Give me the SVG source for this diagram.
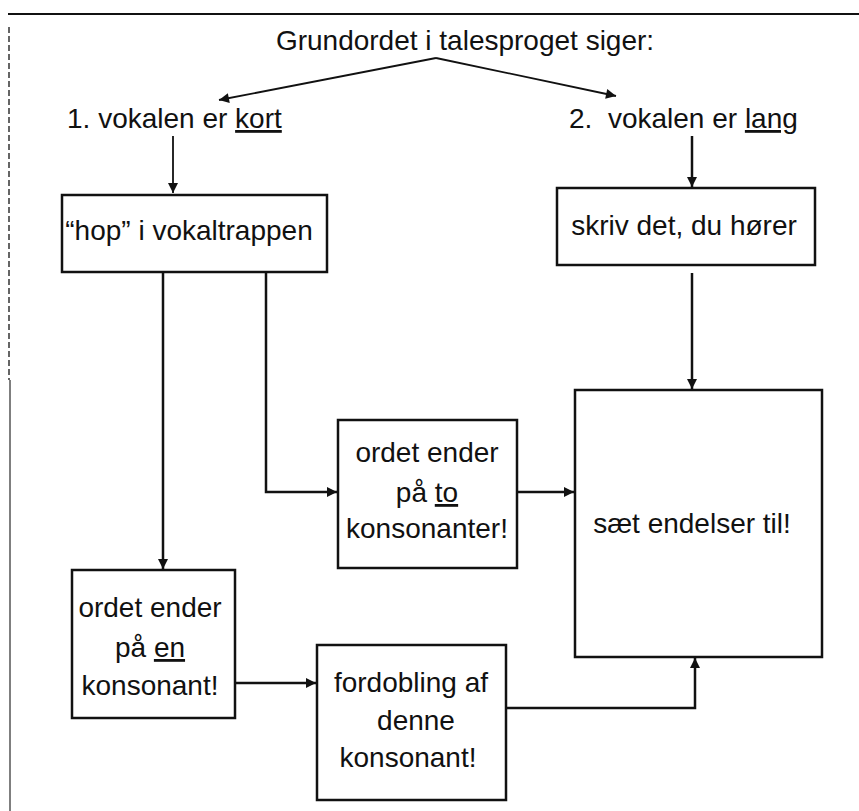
<svg xmlns="http://www.w3.org/2000/svg" width="859" height="811" viewBox="0 0 859 811">
<defs>
<style>
text{font-family:"Liberation Sans",Arial,Helvetica,sans-serif;font-size:28px;fill:#111}
.box{fill:#fff;stroke:#111;stroke-width:2.5}
.c{fill:none;stroke:#111;stroke-width:2.5}
.thin{fill:none;stroke:#111;stroke-width:1.8}
.u{text-decoration:underline}
</style>
<marker id="ah" viewBox="0 0 10 10" refX="10" refY="5" markerWidth="11" markerHeight="10" markerUnits="userSpaceOnUse" orient="auto">
<path d="M0,0 L10,5 L0,10 z" fill="#111"/>
</marker>
</defs>
<rect width="859" height="811" fill="#fff"/>
<g id="frame">
<line x1="8" y1="14" x2="859" y2="14" stroke="#111" stroke-width="2"/>
<line x1="9" y1="27" x2="9" y2="380" stroke="#333" stroke-width="1.5" stroke-dasharray="6,3"/>
<line x1="10" y1="380" x2="10" y2="811" stroke="#555" stroke-width="1.5"/>
</g>
<g id="title"><text x="465" y="50" text-anchor="middle">Grundordet i talesproget siger:</text></g>
<g id="kort"><text x="67" y="128">1. vokalen er <tspan class="u">kort</tspan></text></g>
<g id="lang"><text x="569" y="128" xml:space="preserve">2.  vokalen er <tspan class="u">lang</tspan></text></g>
<g id="hop"><rect class="box" x="62" y="195" width="265" height="77"/><text x="189" y="240" text-anchor="middle">“hop” i vokaltrappen</text></g>
<g id="skriv"><rect class="box" x="557" y="188" width="258" height="77"/><text x="684" y="235" text-anchor="middle">skriv det, du hører</text></g>
<g id="to"><rect class="box" x="338" y="420" width="179" height="148"/>
<text x="427" y="462" text-anchor="middle">ordet ender</text>
<text x="427" y="502" text-anchor="middle">på <tspan class="u">to</tspan></text>
<text x="427" y="538" text-anchor="middle">konsonanter!</text></g>
<g id="en"><rect class="box" x="72" y="570" width="163" height="148"/>
<text x="150" y="617" text-anchor="middle">ordet ender</text>
<text x="150" y="657" text-anchor="middle">på <tspan class="u">en</tspan></text>
<text x="150" y="695" text-anchor="middle">konsonant!</text></g>
<g id="fordobling"><rect class="box" x="317" y="645" width="189" height="155"/>
<text x="411" y="692" text-anchor="middle">fordobling af</text>
<text x="416" y="730" text-anchor="middle">denne</text>
<text x="408" y="767" text-anchor="middle">konsonant!</text></g>
<g id="saet"><rect class="box" x="575" y="390" width="247" height="267"/><text x="692" y="533" text-anchor="middle">sæt endelser til!</text></g>
<g id="connectors">
<polyline class="thin" points="436,58 219,100" marker-end="url(#ah)"/>
<polyline class="thin" points="436,58 616,96" marker-end="url(#ah)"/>
<line class="thin" x1="173" y1="136" x2="173" y2="193" marker-end="url(#ah)"/>
<line class="c" x1="692" y1="136" x2="692" y2="187" stroke-width="3" marker-end="url(#ah)"/>
<line class="c" x1="692" y1="273" x2="692" y2="389" marker-end="url(#ah)"/>
<line class="c" x1="163" y1="273" x2="163" y2="569" marker-end="url(#ah)"/>
<polyline class="c" points="266,273 266,492 337,492" marker-end="url(#ah)"/>
<line class="c" x1="517" y1="492" x2="574" y2="492" stroke-width="3" marker-end="url(#ah)"/>
<line class="c" x1="235" y1="683" x2="316" y2="683" marker-end="url(#ah)"/>
<polyline class="c" points="506,708 695,708 695,658" marker-end="url(#ah)"/>
</g>
</svg>
